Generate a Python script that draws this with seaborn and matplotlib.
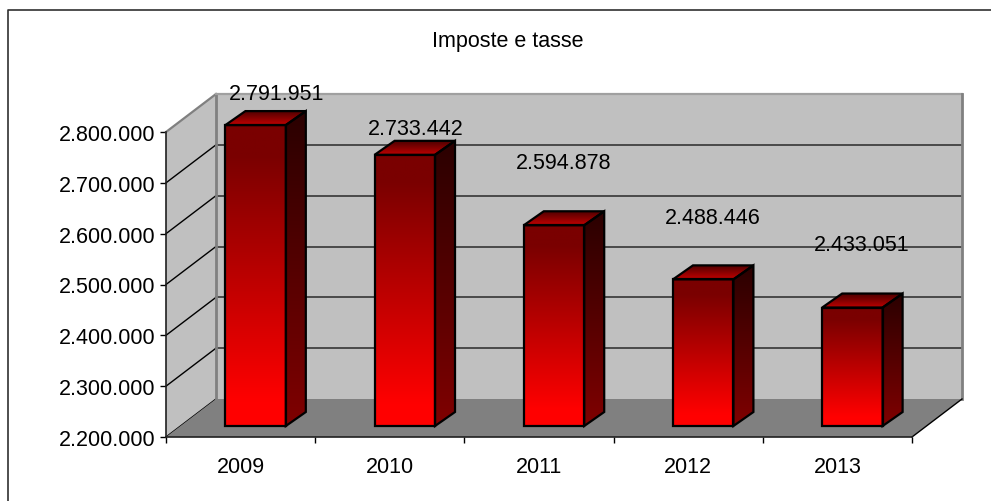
import numpy as np
import seaborn as sns
import matplotlib.pyplot as plt
from matplotlib.colors import LinearSegmentedColormap
from matplotlib.lines import Line2D
from matplotlib.patches import Polygon
from matplotlib.ticker import FuncFormatter, FixedLocator, NullFormatter
from matplotlib.transforms import Affine2D

years = ['2009', '2010', '2011', '2012', '2013']
values = [2791951, 2733442, 2594878, 2488446, 2433051]
y_ticks = [2200000, 2300000, 2400000, 2500000, 2600000, 2700000, 2800000]
title = 'Imposte e tasse'

# where the labels sit relative to the top of the bar, in pixels
label_dx = [36, 26, 25, 25, 24]
label_dy = [43, 37, 74, 73, 74]

W, H = 991, 502
sns.set_theme(style='white')
plt.rcParams['font.family'] = ['Liberation Sans', 'DejaVu Sans']
FS = 15.5

fig = plt.figure(figsize=(W / 100, H / 100), dpi=100)
fig.patch.set_facecolor('white')
# front plane of the fake 3d box
ax = fig.add_axes([166 / W, 1 - 438 / H, 746 / W, 305 / H])
ax.patch.set_alpha(0)

sns.barplot(x=years, y=values, width=0.405, color='red', ax=ax, zorder=5)
ax.set_xlim(-0.5, 4.5)
ax.set_ylim(y_ticks[0], y_ticks[-1])
x0, x1 = ax.get_xlim()
y0, y1 = ax.get_ylim()
to_px = ax.transData.transform
inv = ax.transData.inverted().transform


def shifted(dx, dy):
    return ax.transData + Affine2D().translate(dx, dy)


def moved(x, y, off):
    return inv(to_px((x, y)) + off)


def poly(pts, **kw):
    p = Polygon(pts, closed=True, transform=ax.transData, clip_on=False, **kw)
    ax.add_patch(p)
    return p


def line(a, b, **kw):
    ax.plot([a[0], b[0]], [a[1], b[1]], clip_on=False, solid_capstyle='projecting', **kw)


BACK = (50, 38)
BAR_SHIFT = (15, 11)
DEPTH = (20, 14)

bl = moved(x0, y0, BACK)
tl = moved(x0, y1, BACK)
tr = moved(x1, y1, BACK)
br = moved(x1, y0, BACK)

# walls and floor
poly([bl, tl, tr, br], fc='#C0C0C0', ec='none', zorder=0)
poly([(x0, y0), (x0, y1), tl, bl], fc='#C0C0C0', ec='none', zorder=0)
poly([(x0, y0), (x1, y0), br, bl], fc='#808080', ec='none', zorder=1)

for v in y_ticks[1:-1]:
    line(moved(x0, v, BACK), moved(x1, v, BACK), color='#404040', lw=1.3, zorder=0.5)
for v in y_ticks[:-1]:
    line((x0, v), moved(x0, v, BACK), color='black', lw=1, zorder=0.5)
line((x0, y1), tl, color='#808080', lw=1.6, zorder=0.6)
line(bl, tl, color='#808080', lw=2, zorder=0.7)
line(tl, tr, color='#A0A0A0', lw=1.6, zorder=0.7)
line(tr, br, color='#808080', lw=2, zorder=0.7)
line((x1, y0), br, color='black', lw=1, zorder=2)

front_cm = LinearSegmentedColormap.from_list(
    'front', [(0, '#FF0000'), (0.08, '#FF0000'), (0.9, '#7A0000'), (1, '#7A0000')])
side_cm = LinearSegmentedColormap.from_list('side', ['#800000', '#2A0000'])
top_cm = LinearSegmentedColormap.from_list('top', ['#C00000', '#500000'])
ramp = np.linspace(0, 1, 256).reshape(-1, 1)


def face(cm, corners):
    xs = [c[0] for c in corners]
    ys = [c[1] for c in corners]
    outline = Polygon(corners, closed=True, transform=shifted(*BAR_SHIFT), fc='none', ec='black',
                      lw=1.6, clip_on=False, zorder=6, joinstyle='miter')
    ax.add_patch(outline)
    im = ax.imshow(ramp, cmap=cm, origin='lower', aspect='auto', zorder=4,
                   extent=(min(xs), max(xs), min(ys), max(ys)), transform=shifted(*BAR_SHIFT))
    im.set_clip_box(fig.bbox)
    im.set_clip_path(outline)


for i, (bar, val) in enumerate(zip(ax.patches, values)):
    left = bar.get_x()
    right = left + bar.get_width()
    bar.set_visible(False)  # the gradient faces below replace the flat bar

    # depth expressed in data units from the pixel offset
    pr = moved(right, val, DEPTH)
    ddx, ddy = pr[0] - right, pr[1] - val
    face(front_cm, [(left, y0), (right, y0), (right, val), (left, val)])
    face(side_cm, [(right, y0), (right + ddx, y0 + ddy), (right + ddx, val + ddy), (right, val)])
    face(top_cm, [(left, val), (right, val), (right + ddx, val + ddy), (left + ddx, val + ddy)])

    ax.annotate(f'{val:,}'.replace(',', '.'), xy=(i, val), xytext=(label_dx[i], label_dy[i]),
                textcoords='offset pixels', ha='center', va='center',
                fontsize=FS, color='black', zorder=8, annotation_clip=False)

ax.set_xlim(x0, x1)
ax.set_ylim(y0, y1)

# axis dressing
for s in ['top', 'right']:
    ax.spines[s].set_visible(False)
for s in ['left', 'bottom']:
    ax.spines[s].set_color('#202020')
    ax.spines[s].set_linewidth(1.2)
    ax.spines[s].set_zorder(3)
ax.set_yticks(y_ticks)
ax.yaxis.set_major_formatter(FuncFormatter(lambda v, _: f'{int(v):,}'.replace(',', '.')))
ax.xaxis.set_major_locator(FixedLocator(np.arange(x0, x1 + 0.5)))
ax.xaxis.set_major_formatter(NullFormatter())
ax.xaxis.set_minor_locator(FixedLocator(range(len(years))))
ax.set_xticklabels(years, minor=True)
ax.tick_params(axis='both', which='major', length=4, width=1, color='black', bottom=True, left=True,
               labelsize=FS, labelcolor='black', pad=3.5)
ax.tick_params(axis='x', which='minor', length=0, labelsize=FS, labelcolor='black', pad=14)
ax.set_xlabel('')
ax.set_ylabel('')

fig.text(507.5 / W, 1 - 41 / H, title, ha='center', va='center', fontsize=FS, color='black')

# the chart frame runs off the image on the right and at the bottom
fig.add_artist(Line2D([7.5 / W, 7.5 / W, 1], [0, 1 - 11 / H, 1 - 11 / H], color='#303030', lw=1.2))

fig.savefig('out.png', dpi=100)
